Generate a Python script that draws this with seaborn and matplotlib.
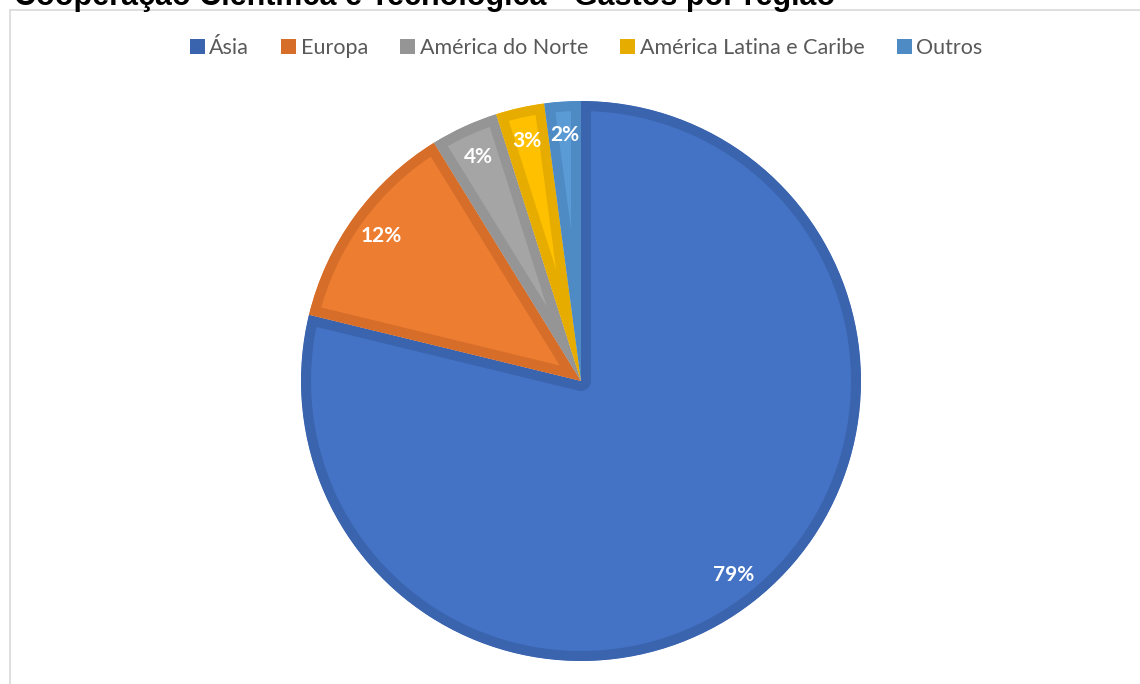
import matplotlib
matplotlib.use("Agg")
import matplotlib.pyplot as plt
import seaborn as sns
from matplotlib.lines import Line2D
from matplotlib.patches import Patch

# dados
regioes = ["Ásia", "Europa", "América do Norte", "América Latina e Caribe", "Outros"]
gastos = [78.8, 12.4, 3.9, 2.8, 2.1]
cores = ["#4472C4", "#ED7D31", "#A5A5A5", "#FFC000", "#5B9BD5"]
bordas = ["#3B64AF", "#D66E2A", "#959595", "#E6AD00", "#4E8BC5"]
titulo = "Cooperação Científica e Tecnológica - Gastos por região"

sns.set_theme(style="white")
plt.rcParams["font.family"] = ["Lato", "DejaVu Sans"]

W, H = 1140, 684
fig = plt.figure(figsize=(W / 100, H / 100), dpi=100)
fig.patch.set_facecolor("white")

# pie centred at (581, 381) px with radius 280 px
ax = fig.add_axes([301 / W, 23 / H, 560 / W, 560 / H])
wedges, texts, autotexts = ax.pie(
    gastos, colors=cores, startangle=90, counterclock=False,
    autopct="%.0f%%", pctdistance=0.88, radius=1,
    wedgeprops=dict(linewidth=0),
)
# inner darker border (Excel style): thick edge clipped to the wedge itself
for w, b in zip(wedges, bordas):
    w.set_edgecolor(b)
    w.set_linewidth(14.4)
    w.set_joinstyle("round")
    w.set_clip_path(w)
    w.set_clip_on(True)
for t in autotexts:
    t.set_color("white")
    t.set_fontweight("bold")
    t.set_fontsize(15)
ax.set_xlim(-1, 1)
ax.set_ylim(-1, 1)
ax.axis("off")

# title (cut at the top like the reference)
fig.text(14 / W, 1 - 5 / H, titulo, fontsize=22, fontweight="bold",
         family=["Liberation Sans", "DejaVu Sans"], color="black",
         ha="left", va="baseline")

# chart area border (left and top only visible)
fig.add_artist(Line2D([10 / W, 10 / W], [0, 1 - 10 / H], color="#D9D9D9",
                      lw=1.2, transform=fig.transFigure))
fig.add_artist(Line2D([10 / W, 1], [1 - 10 / H, 1 - 10 / H], color="#D9D9D9",
                      lw=1.2, transform=fig.transFigure))

handles = [Patch(facecolor=b, edgecolor="none") for b in bordas]
fig.legend(handles, regioes, loc="center", bbox_to_anchor=(586 / W, 1 - 48 / H),
           ncol=5, frameon=False, handlelength=0.7, handleheight=0.7,
           handletextpad=0.2, columnspacing=1.5, fontsize=15.5,
           labelcolor="#595959")

fig.savefig("out.png", dpi=100)
